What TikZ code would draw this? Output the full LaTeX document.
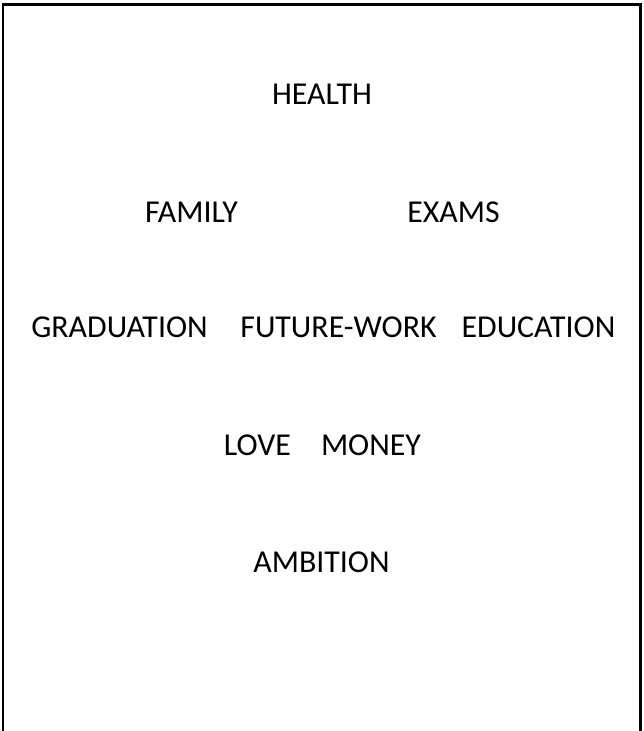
\documentclass[tikz,border=0pt]{standalone}
\usepackage{fontspec}
\setmainfont{Carlito}
\usepackage{tikz}

\tikzset{word/.style={anchor=base,inner sep=0.75pt,font=\fontsize{23.9}{28}\selectfont}}

\begin{document}
\begin{tikzpicture}[x=0.75pt,y=0.75pt,yscale=-1,xscale=1]
\useasboundingbox (0,0) rectangle (643,731);
%Shape: Box, open at the bottom
\draw [line width=2.1] (3,740) -- (3,4.5) -- (640.5,4.5) -- (640.5,740) ;

% Text Node
\node [word] (health) at (322,104.5) {HEALTH};
% Text Node
\node [word] (family) at (191.5,222) {FAMILY};
% Text Node
\node [word] (exams) at (453.5,222) {EXAMS};
% Text Node
\node [word] (graduation) at (119.5,337.5) {GRADUATION};
% Text Node
\node [word] (futurework) at (338.5,337.5) {FUTURE-WORK};
% Text Node
\node [word] (education) at (538.5,337.5) {EDUCATION};
% Text Node
\node [word] (love) at (257.5,455) {LOVE};
% Text Node
\node [word] (money) at (371,455) {MONEY};
% Text Node
\node [word] (ambition) at (321.5,572) {AMBITION};
\end{tikzpicture}
\end{document}
